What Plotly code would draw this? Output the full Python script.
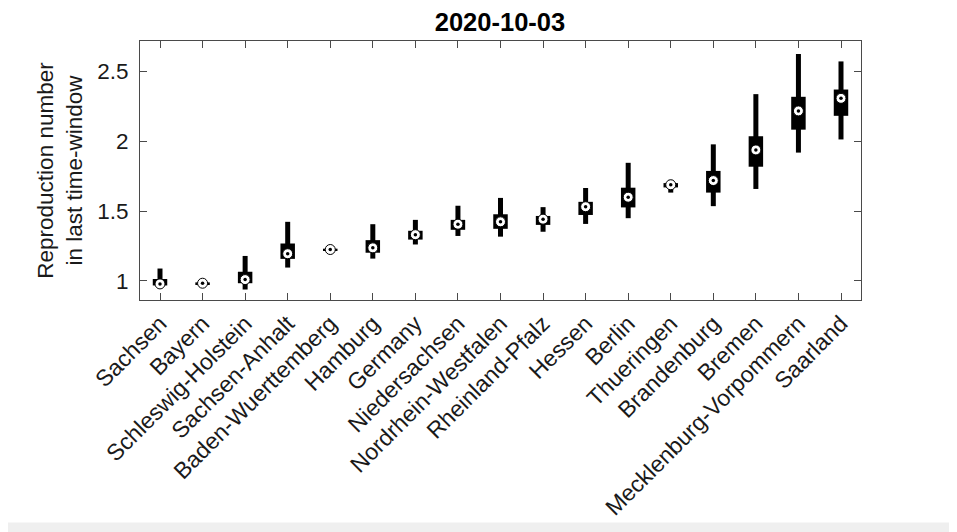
import plotly.graph_objects as go

categories = ["Sachsen", "Bayern", "Schleswig-Holstein", "Sachsen-Anhalt",
              "Baden-Wuerttemberg", "Hamburg", "Germany", "Niedersachsen",
              "Nordrhein-Westfalen", "Rheinland-Pfalz", "Hessen", "Berlin",
              "Thueringen", "Brandenburg", "Bremen", "Mecklenburg-Vorpommern",
              "Saarland"]

median = [0.979, 0.984, 1.010, 1.195, 1.225, 1.237, 1.331, 1.406, 1.423,
          1.442, 1.531, 1.599, 1.688, 1.718, 1.937, 2.216, 2.306]
q1 = [0.968, 0.978, 0.984, 1.158, 1.219, 1.202, 1.296, 1.366, 1.373,
      1.401, 1.472, 1.526, 1.669, 1.632, 1.817, 2.082, 2.181]
q3 = [1.014, 0.990, 1.066, 1.268, 1.231, 1.292, 1.359, 1.437, 1.477,
      1.465, 1.566, 1.667, 1.700, 1.787, 2.035, 2.317, 2.369]
lower = [0.962, 0.976, 0.939, 1.096, 1.217, 1.160, 1.261, 1.322, 1.317,
         1.352, 1.408, 1.449, 1.632, 1.535, 1.658, 1.918, 2.012]
upper = [1.089, 0.992, 1.179, 1.423, 1.233, 1.406, 1.437, 1.538, 1.594,
         1.528, 1.665, 1.845, 1.723, 1.977, 2.336, 2.623, 2.570]

ytick_vals = [1, 1.5, 2, 2.5]
ytick_text = ["1", "1.5", "2", "2.5"]
title_text = "2020-10-03"
ytitle = "Reproduction number<br>in last time-window"
ref_level = 1

FONT = "Liberation Sans, Arial, sans-serif"
TXT = "#1a1a1a"
AX = "#4a4a4a"

# whiskers as vertical segments
wx, wy = [], []
for c, lo, hi in zip(categories, lower, upper):
    wx += [c, c, None]
    wy += [lo, hi, None]

fig = go.Figure()
fig.add_trace(go.Scatter(x=wx, y=wy, mode="lines",
                         line=dict(color="black", width=5),
                         hoverinfo="skip", showlegend=False))
fig.add_trace(go.Bar(x=categories, base=q1,
                     y=[b - a for a, b in zip(q1, q3)],
                     width=0.34, marker=dict(color="black", line=dict(width=0)),
                     showlegend=False))
fig.add_trace(go.Scatter(x=categories, y=median, mode="markers",
                         marker=dict(symbol="circle", size=10, color="white",
                                     line=dict(color="black", width=1)),
                         showlegend=False))
fig.add_trace(go.Scatter(x=categories, y=median, mode="markers",
                         marker=dict(symbol="circle", size=3.5, color="black"),
                         showlegend=False))

# reference dashed line
fig.add_shape(type="line", xref="paper", x0=0, x1=1, yref="y",
              y0=ref_level, y1=ref_level, layer="below",
              line=dict(color="rgb(210,45,45)", width=1.6, dash="6px,4px"))

# white panel on grey frame
fig.add_shape(type="rect", xref="paper", yref="paper",
              x0=-0.25, x1=1.1248, y0=-0.8588, y1=1.2,
              layer="below", fillcolor="white", line=dict(width=0))

fig.update_layout(
    width=949, height=524,
    paper_bgcolor="#efefef", plot_bgcolor="white",
    margin=dict(l=132, r=96, t=33, b=229),
    font=dict(family=FONT, color=TXT, size=22),
    title=dict(text="<b>" + title_text + "</b>", x=0.5184, xanchor="center",
               y=0.9733, yanchor="middle", yref="container",
               font=dict(size=25.5, family=FONT, color="black")),
    barmode="overlay",
    showlegend=False,
)
fig.update_xaxes(type="category", categoryorder="array", categoryarray=categories,
                 range=[-0.47, 16.47], tickangle=-45,
                 ticks="inside", ticklen=7, tickcolor=AX, tickwidth=1,
                 showline=True, linecolor=AX, linewidth=1, mirror="ticks",
                 showgrid=False, zeroline=False,
                 tickfont=dict(size=23, family=FONT, color=TXT))
fig.update_yaxes(range=[0.864, 2.716], tickvals=ytick_vals, ticktext=ytick_text,
                 ticks="inside", ticklen=7, tickcolor=AX, tickwidth=1,
                 showline=True, linecolor=AX, linewidth=1, mirror="ticks",
                 showgrid=False, zeroline=False, ticklabelstandoff=6,
                 tickfont=dict(size=22.5, family=FONT, color=TXT),
                 title=dict(text=ytitle, standoff=8,
                            font=dict(size=22.5, family=FONT, color=TXT)))

fig.write_html("out.html")
